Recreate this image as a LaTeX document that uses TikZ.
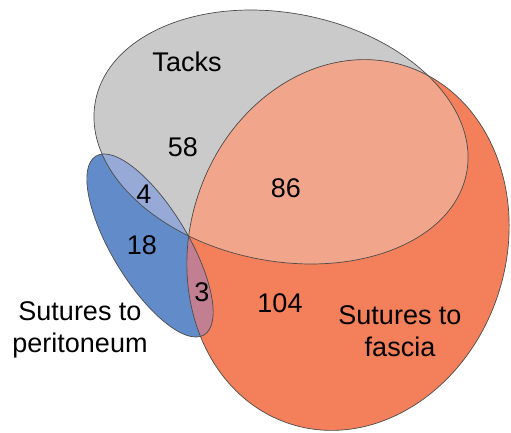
\documentclass[tikz,border=0pt]{standalone}
\usepackage{fontspec}
\setmainfont{Liberation Sans}
\definecolor{tackscol}{HTML}{C9CAC9}
\definecolor{fasciacol}{HTML}{F3805A}
\definecolor{bothcol}{HTML}{F1A58B}
\definecolor{peritcol}{HTML}{628BC9}
\definecolor{peritackcol}{HTML}{96A9D7}
\definecolor{perifascol}{HTML}{C27F92}
\newcommand\tacksset{(281,295) ellipse [x radius=189pt, y radius=124pt, rotate=-11]}
\newcommand\fasciaset{(348,187) ellipse [x radius=158pt, y radius=188pt, rotate=-18]}
\newcommand\peritset{(150,186.5) ellipse [x radius=104.5pt, y radius=38pt, rotate=-58.8]}
\begin{document}
\begin{tikzpicture}[x=1pt,y=1pt,
    setline/.style={draw=black!70, line width=0.7pt},
    setlabel/.style={font=\fontsize{27}{32}\selectfont, align=center, inner sep=0pt},
    count/.style={font=\fontsize{27}{32}\selectfont, inner sep=0pt}]
                \useasboundingbox (0,0) rectangle (511,432);
                % the three sets
                \fill [tackscol] \tacksset;
                \fill [fasciacol] \fasciaset;
                \begin{scope}
                    \clip \tacksset;
                    \fill [bothcol] \fasciaset;
                \end{scope}
                \fill [peritcol] \peritset;
                \begin{scope}
                    \clip \peritset;
                    \fill [peritackcol] \tacksset;
                    \fill [perifascol] \fasciaset;
                \end{scope}
                \draw [setline] \tacksset;
                \draw [setline] \fasciaset;
                \draw [setline] \peritset;
                % names
                \node [setlabel] (tacks) at (187,370) {Tacks};
                \node [setlabel] (fascia) at (400,101) {Sutures to\\fascia};
                \node [setlabel] (perit) at (80,102) {Sutures to\\peritoneum};
                % counts
                \node [count] (n58) at (183,285) {58};
                \node [count] (n86) at (286,244) {86};
                \node [count] (n4) at (144,238) {4};
                \node [count] (n18) at (142,187) {18};
                \node [count] (n3) at (202,140) {3};
                \node [count] (n104) at (280,129) {104};
\end{tikzpicture}
\end{document}
